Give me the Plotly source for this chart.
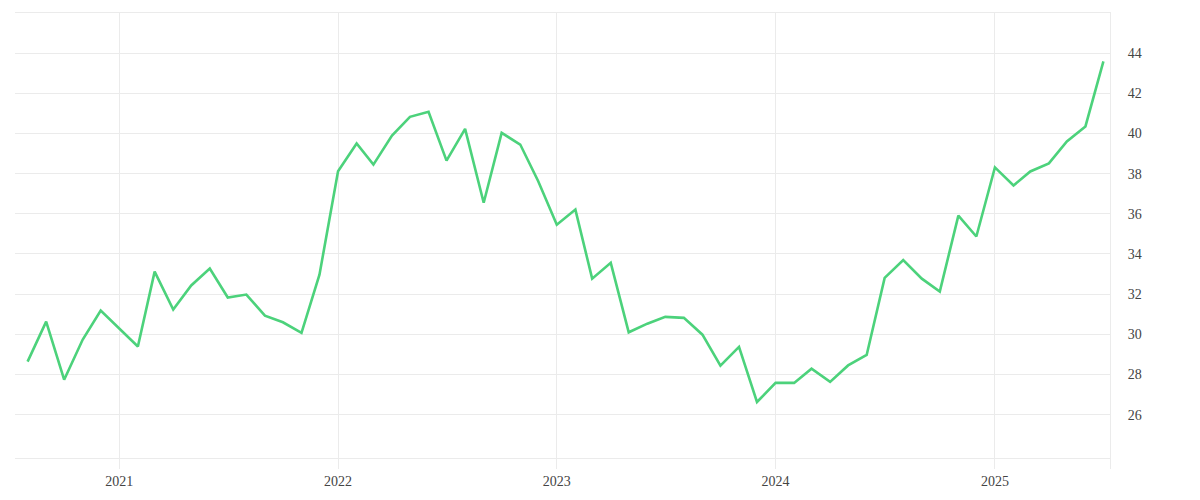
import pandas as pd
import plotly.graph_objects as go

# =====================================================
# Data (monthly, Aug 2020 - Jul 2025)
# =====================================================

START_MONTH = "2020-08-01"

values = [
    28.64, 30.63, 27.74, 29.74, 31.18,                       # 2020
    30.30, 29.39, 33.12, 31.23, 32.43, 33.27,
    31.83, 31.98, 30.93, 30.60, 30.07, 32.97,                # 2021
    38.12, 39.50, 38.45, 39.90, 40.83, 41.08,
    38.65, 40.23, 36.55, 40.03, 39.45, 37.62,                # 2022
    35.46, 36.21, 32.77, 33.56, 30.10, 30.53,
    30.87, 30.82, 29.98, 28.44, 29.37, 26.63,                # 2023
    27.58, 27.58, 28.29, 27.63, 28.45, 28.97,
    32.81, 33.70, 32.77, 32.13, 35.91, 34.87,                # 2024
    38.31, 37.41, 38.11, 38.51, 39.60, 40.35, 43.59,         # 2025
]

dates = pd.date_range(START_MONTH, periods=len(values), freq="MS")

year_ticks = ["2021-01-01", "2022-01-01", "2023-01-01", "2024-01-01", "2025-01-01"]
year_labels = ["2021", "2022", "2023", "2024", "2025"]
y_ticks = [26, 28, 30, 32, 34, 36, 38, 40, 42, 44]

X_RANGE = ["2020-07-11", "2025-07-12"]
Y_RANGE = [23.84, 46]

# =====================================================
# Style
# =====================================================

GRID = "#ebebeb"
LINE = "#4cd27b"
FONT = dict(family="Liberation Serif, serif", size=14, color="#444444")

# =====================================================
# Figure
# =====================================================

fig = go.Figure()

fig.add_trace(go.Scatter(
    x=dates,
    y=values,
    mode="lines",
    line=dict(color=LINE, width=2.6),
    hoverinfo="x+y",
))

# page body adds ~8px offset, margins compensate for it
fig.update_layout(
    width=1200,
    height=500,
    margin=dict(l=7, r=98, t=5, b=50),
    paper_bgcolor="white",
    plot_bgcolor="white",
    font=FONT,
    showlegend=False,
)

fig.update_xaxes(
    type="date",
    range=X_RANGE,
    tickvals=year_ticks + [X_RANGE[1]],
    ticktext=year_labels + [""],
    showgrid=True,
    gridcolor=GRID,
    gridwidth=1,
    ticks="outside",
    ticklen=10,
    tickcolor=GRID,
    showline=True,
    mirror=True,
    linecolor=GRID,
    linewidth=1,
    zeroline=False,
)

fig.update_yaxes(
    range=Y_RANGE,
    side="right",
    tickvals=y_ticks,
    showgrid=True,
    gridcolor=GRID,
    gridwidth=1,
    ticks="",
    ticklabelstandoff=14,
    showline=True,
    linecolor=GRID,
    linewidth=1,
    zeroline=False,
)

fig.write_html("out.html")
